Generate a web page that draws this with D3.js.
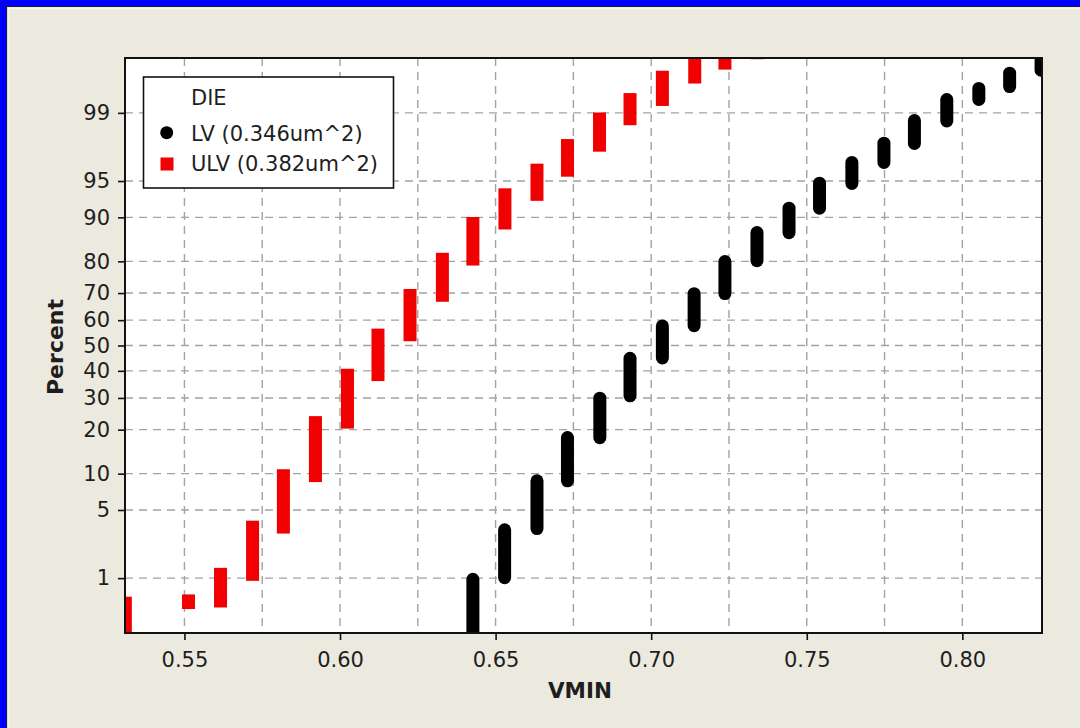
<!DOCTYPE html>
<html>
<head>
<meta charset="utf-8">
<script src="https://cdn.jsdelivr.net/npm/d3@7"></script>
<style>
  html, body { margin: 0; padding: 0; background: #ECE9DF; }
  svg { display: block; }
  text { font-family: "DejaVu Sans", Verdana, sans-serif; fill: #1e1e1e; }
</style>
</head>
<body>
<svg id="chart" width="1080" height="728"></svg>
<script>
// Normal probability plot of VMIN per die type.
// Each group of equal VMIN readings forms a vertical run of points,
// kept here as the lowest and highest cumulative percent of that run.

const xTicks = [0.55, 0.60, 0.65, 0.70, 0.75, 0.80];
const xGrid = [0.55, 0.575, 0.60, 0.625, 0.65, 0.675, 0.70, 0.725, 0.75, 0.775, 0.80];
const percentTicks = [1, 5, 10, 20, 30, 40, 50, 60, 70, 80, 90, 95, 99];

const legendTitle = "DIE";
const seriesNames = ["LV (0.346um^2)", "ULV (0.382um^2)"];

// LV (0.346um^2)
const lvVmin = [0.6427, 0.6529, 0.6633, 0.6731, 0.6835, 0.6932, 0.7036, 0.7138, 0.7237, 0.7340,
                0.7443, 0.7541, 0.7645, 0.7748, 0.7846, 0.7950, 0.8053, 0.8152, 0.8253];
const lvLow  = [0.1, 0.85, 2.90, 7.8, 16.2, 28.5, 42.5, 55.3, 67.5, 78.3,
                85.6, 90.45, 94.0, 96.12, 97.47, 98.54, 99.17, 99.42, 99.64];
const lvHigh = [1.15, 3.77, 9.88, 19.6, 32.2, 47.5, 60.3, 72.0, 81.7, 88.4,
                92.48, 95.43, 97.10, 98.16, 98.97, 99.42, 99.58, 99.735, 99.9];

// ULV (0.382um^2)
const ulvVmin = [0.5310, 0.5513, 0.5616, 0.5719, 0.5818, 0.5921, 0.6024, 0.6122, 0.6225, 0.6329,
                 0.6427, 0.6530, 0.6633, 0.6731, 0.6834, 0.6932, 0.7036, 0.7140, 0.7237, 0.7340];
const ulvLow  = [0.1, 0.42, 0.44, 0.93, 3.0, 8.6, 20.3, 36.1, 51.7, 66.9,
                 78.8, 87.7, 92.6, 95.43, 97.37, 98.62, 99.17, 99.56, 99.71, 99.79];
const ulvHigh = [0.60, 0.64, 1.31, 3.99, 10.8, 24.0, 40.8, 56.7, 71.4, 82.3,
                 90.06, 94.2, 96.55, 98.05, 99.01, 99.42, 99.70, 99.9, 99.9, 99.9];

// Inverse standard normal CDF (Acklam's rational approximation)
function probit(p) {
  const a = [-3.969683028665376e+01, 2.209460984245205e+02, -2.759285104469687e+02,
             1.383577518672690e+02, -3.066479806614716e+01, 2.506628277459239e+00];
  const b = [-5.447609879822406e+01, 1.615858368580409e+02, -1.556989798598866e+02,
             6.680131188771972e+01, -1.328068155288572e+01];
  const c = [-7.784894002430293e-03, -3.223964580411365e-01, -2.400758277161838e+00,
             -2.549732539343734e+00, 4.374664141464968e+00, 2.938163982698783e+00];
  const d = [7.784695709041462e-03, 3.224671290700398e-01, 2.445134137142996e+00,
             3.754408661907416e+00];
  const pl = 0.02425, ph = 1 - pl;
  let q, r;
  if (p < pl) {
    q = Math.sqrt(-2 * Math.log(p));
    return (((((c[0]*q+c[1])*q+c[2])*q+c[3])*q+c[4])*q+c[5]) /
           ((((d[0]*q+d[1])*q+d[2])*q+d[3])*q+1);
  } else if (p <= ph) {
    q = p - 0.5; r = q * q;
    return (((((a[0]*r+a[1])*r+a[2])*r+a[3])*r+a[4])*r+a[5])*q /
           (((((b[0]*r+b[1])*r+b[2])*r+b[3])*r+b[4])*r+1);
  } else {
    q = Math.sqrt(-2 * Math.log(1 - p));
    return -(((((c[0]*q+c[1])*q+c[2])*q+c[3])*q+c[4])*q+c[5]) /
            ((((d[0]*q+d[1])*q+d[2])*q+d[3])*q+1);
  }
}

const W = 1080, H = 728;
const svg = d3.select("#chart");

// window frame
svg.append("rect").attr("width", W).attr("height", H).attr("fill", "#0000FE");
svg.append("rect").attr("x", 7).attr("y", 7).attr("width", W - 7).attr("height", H - 7).attr("fill", "#ECE9DF");
svg.append("path").attr("d", `M6.5,${H} V6.5 H${W}`).attr("fill", "none").attr("stroke", "#1b1b40").attr("stroke-width", 1.2);
svg.append("path").attr("d", `M8.5,${H} V8.5 H${W}`).attr("fill", "none").attr("stroke", "#f7f5ee").attr("stroke-width", 1.5);

const plot = { left: 125, top: 58, right: 1042, bottom: 633 };
const pw = plot.right - plot.left, ph = plot.bottom - plot.top;

const x = d3.scaleLinear().domain([0.5309, 0.8256]).range([plot.left, plot.right]);
const zMax = 2.875;
const yz = d3.scaleLinear().domain([-zMax, zMax]).range([plot.bottom, plot.top]);
const yp = pct => yz(probit(pct / 100));

// plot background
svg.append("rect").attr("x", plot.left).attr("y", plot.top).attr("width", pw).attr("height", ph).attr("fill", "#ffffff");

// gridlines
const grid = svg.append("g").attr("stroke", "#a2a2a2").attr("stroke-width", 1.4).attr("stroke-dasharray", "8,6");
grid.selectAll("line.v").data(xGrid).join("line").attr("class", "v")
  .attr("x1", d => x(d)).attr("x2", d => x(d)).attr("y1", plot.top).attr("y2", plot.bottom);
grid.selectAll("line.h").data(percentTicks).join("line").attr("class", "h")
  .attr("x1", plot.left).attr("x2", plot.right).attr("y1", d => yp(d)).attr("y2", d => yp(d));

// data marks, clipped to the plotting region
svg.append("clipPath").attr("id", "plotClip").append("rect")
  .attr("x", plot.left).attr("y", plot.top).attr("width", pw).attr("height", ph);
const marks = svg.append("g").attr("clip-path", "url(#plotClip)");
const markW = 13;

const ulvRuns = ulvVmin.map((v, i) => ({ v, lo: ulvLow[i], hi: ulvHigh[i] }));
const lvRuns = lvVmin.map((v, i) => ({ v, lo: lvLow[i], hi: lvHigh[i] }));

marks.selectAll("rect.ulv").data(ulvRuns).join("rect").attr("class", "ulv")
  .attr("x", d => x(d.v) - markW / 2).attr("width", markW)
  .attr("y", d => yp(d.hi)).attr("height", d => yp(d.lo) - yp(d.hi))
  .attr("fill", "#F00000");

marks.selectAll("rect.lv").data(lvRuns).join("rect").attr("class", "lv")
  .attr("x", d => x(d.v) - markW / 2).attr("width", markW)
  .attr("y", d => yp(d.hi)).attr("height", d => yp(d.lo) - yp(d.hi))
  .attr("rx", 6.5).attr("ry", 6.5)
  .attr("fill", "#000000");

// axes
const xAxis = d3.axisBottom(x).tickValues(xTicks).tickFormat(d3.format(".2f"))
  .tickSizeInner(7).tickSizeOuter(0).tickPadding(12);
const gx = svg.append("g").attr("transform", `translate(0,${plot.bottom})`).call(xAxis);
gx.select(".domain").remove();
gx.selectAll(".tick line").attr("stroke", "#111").attr("stroke-width", 1.6);
gx.selectAll(".tick text").attr("font-size", 21).attr("font-family", "DejaVu Sans").attr("fill", "#2a2a2a");

const yAxis = d3.axisLeft(yz).tickValues(percentTicks.map(p => probit(p / 100)))
  .tickFormat((d, i) => percentTicks[i]).tickSizeInner(7).tickSizeOuter(0).tickPadding(8);
const gy = svg.append("g").attr("transform", `translate(${plot.left},0)`).call(yAxis);
gy.select(".domain").remove();
gy.selectAll(".tick line").attr("stroke", "#111").attr("stroke-width", 1.6);
gy.selectAll(".tick text").attr("font-size", 21).attr("font-family", "DejaVu Sans").attr("fill", "#2a2a2a");

// plot frame
svg.append("rect").attr("x", plot.left).attr("y", plot.top).attr("width", pw).attr("height", ph)
  .attr("fill", "none").attr("stroke", "#111").attr("stroke-width", 2);

// axis titles
svg.append("text").attr("x", 580).attr("y", 698)
  .attr("text-anchor", "middle").attr("font-weight", "bold").attr("font-size", 21.5).text("VMIN");
svg.append("text").attr("transform", "translate(63,347) rotate(-90)")
  .attr("text-anchor", "middle").attr("font-weight", "bold").attr("font-size", 22).text("Percent");

// legend
const lg = svg.append("g");
lg.append("rect").attr("x", 143.5).attr("y", 77).attr("width", 250).attr("height", 111)
  .attr("fill", "#fff").attr("stroke", "#111").attr("stroke-width", 1.6);
lg.append("text").attr("x", 191).attr("y", 104.5).attr("font-size", 21).text(legendTitle);
lg.append("circle").attr("cx", 166.7).attr("cy", 132.7).attr("r", 6.5).attr("fill", "#000");
lg.append("text").attr("x", 191).attr("y", 141).attr("font-size", 21).text(seriesNames[0]);
lg.append("rect").attr("x", 160.5).attr("y", 157.5).attr("width", 13).attr("height", 13).attr("fill", "#F00000");
lg.append("text").attr("x", 191).attr("y", 170.5).attr("font-size", 21).text(seriesNames[1]);
</script>
</body>
</html>
